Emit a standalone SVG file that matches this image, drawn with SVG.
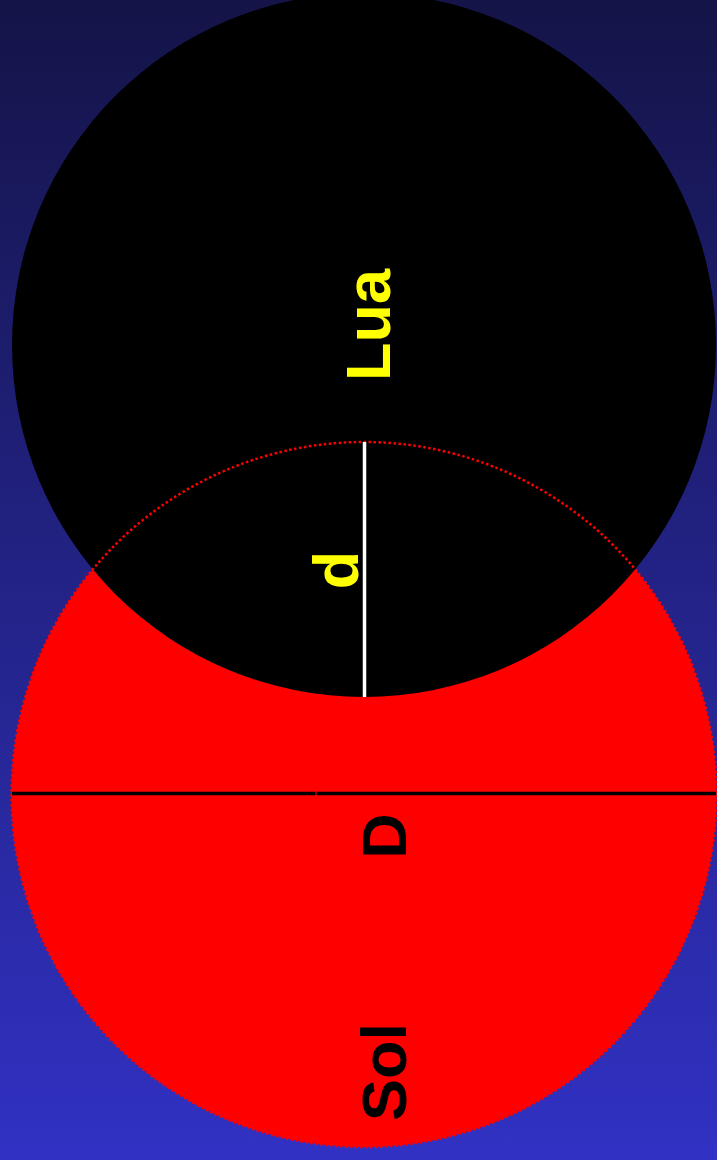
<svg xmlns="http://www.w3.org/2000/svg" width="717" height="1160" viewBox="0 0 717 1160">
<defs>
<linearGradient id="bg" x1="0" y1="0" x2="0" y2="1">
<stop offset="0" stop-color="#141448"/>
<stop offset="1" stop-color="#3131c4"/>
</linearGradient>
</defs>
<style>
.lbl{font-family:"Liberation Sans",Arial,sans-serif;font-weight:bold;font-size:63px;text-anchor:middle}
.y{fill:#ffff00}
.k{fill:#000000}
</style>
<rect width="717" height="1160" fill="url(#bg)"/>
<g id="sol">
<circle cx="364" cy="794.5" r="352.5" fill="#ff0000"/>
</g>
<g id="lua">
<circle cx="364" cy="345" r="352" fill="#000000"/>
</g>
<g id="sol-outline">
<circle cx="364" cy="794.5" r="352.5" fill="none" stroke="#ff0000" stroke-width="2.5" stroke-dasharray="2.5 2.5"/>
</g>
<g id="connectors">
<line x1="364.5" y1="442" x2="364.5" y2="697" stroke="#ffffff" stroke-width="3.5"/>
<line x1="12" y1="793.5" x2="315.5" y2="793.5" stroke="#000000" stroke-width="3.5"/>
<line x1="316.5" y1="793.5" x2="716" y2="793.5" stroke="#000000" stroke-width="3.5"/>
</g>
<g id="labels">
<text class="lbl y" transform="translate(390,325) rotate(-90)">Lua</text>
<text class="lbl y" transform="translate(358,570) rotate(-90)">d</text>
<text class="lbl k" transform="translate(406,836) rotate(-90)">D</text>
<text class="lbl k" transform="translate(406,1072) rotate(-90)">Sol</text>
</g>
</svg>
